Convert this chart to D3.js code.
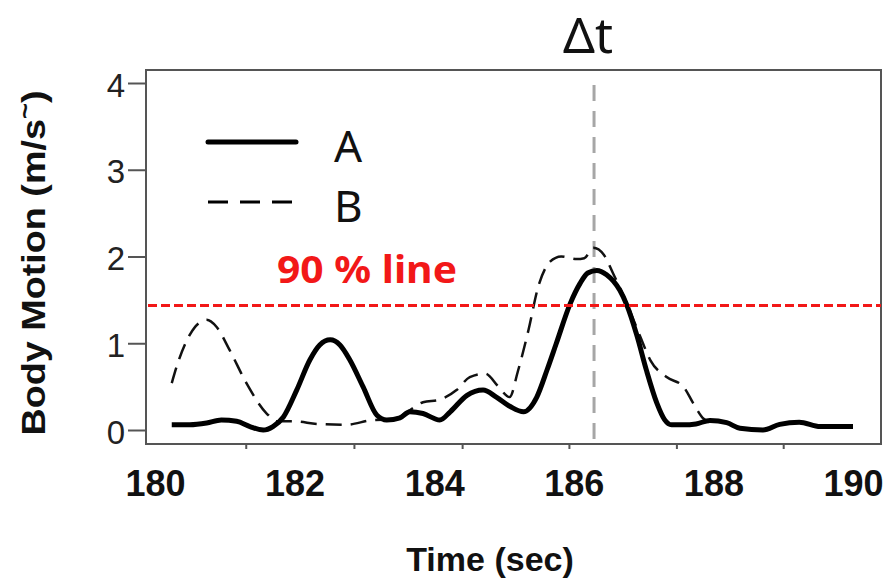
<!DOCTYPE html>
<html>
<head>
<meta charset="utf-8">
<script src="https://cdn.jsdelivr.net/npm/d3@7.9.0/dist/d3.min.js"></script>
<style>
  html, body { margin: 0; padding: 0; background: #fff; }
  svg { display: block; }
</style>
</head>
<body>
<svg id="chart" width="887" height="580"></svg>
<script>
/* =====================================================
   BODY MOTION CHART
   - two motion traces (A solid, B dashed)
   - 90 % threshold line + delta-t marker
   ===================================================== */

/* --- Data --- */
const timeA = [180.24, 180.5, 180.74, 180.95, 181.17, 181.36, 181.55, 181.69, 181.84, 182.03,
  182.22, 182.36, 182.51, 182.65, 182.79, 182.98, 183.18, 183.32, 183.51, 183.65,
  183.84, 184.08, 184.23, 184.47, 184.7, 184.89, 185.09, 185.28, 185.47, 185.62,
  185.75, 185.95, 186.09, 186.2, 186.33, 186.47, 186.66, 186.76, 186.9, 187.04,
  187.19, 187.3, 187.4, 187.57, 187.75, 187.95, 188.19, 188.38, 188.71, 188.95,
  189.23, 189.53, 190.0];
const valueA = [0.06, 0.06, 0.08, 0.115, 0.1, 0.04, 0.0, 0.04, 0.15, 0.46,
  0.81, 0.98, 1.04, 0.98, 0.81, 0.5, 0.17, 0.115, 0.14, 0.21,
  0.19, 0.115, 0.21, 0.4, 0.46, 0.38, 0.27, 0.21, 0.38, 0.7,
  1.0, 1.46, 1.69, 1.81, 1.84, 1.79, 1.61, 1.44, 1.1, 0.69,
  0.31, 0.12, 0.06, 0.06, 0.07, 0.11, 0.085, 0.02, 0.0, 0.065,
  0.09, 0.04, 0.04];

const timeB = [180.24, 180.31, 180.5, 180.74, 180.88, 181.07, 181.31, 181.6, 181.75, 182.0,
  182.32, 182.74, 183.13, 183.41, 183.6, 183.84, 184.08, 184.32, 184.51, 184.73,
  184.92, 185.08, 185.2, 185.35, 185.49, 185.66, 185.82, 186.04, 186.15, 186.28,
  186.43, 186.56, 186.76, 186.95, 187.1, 187.33, 187.57, 187.71, 187.86, 188.0];
const valueB = [0.54, 0.73, 1.1, 1.27, 1.19, 0.92, 0.54, 0.19, 0.1, 0.1,
  0.07, 0.06, 0.115, 0.12, 0.2, 0.32, 0.35, 0.46, 0.61, 0.65,
  0.5, 0.38, 0.68, 1.15, 1.65, 1.94, 2.0, 1.97, 1.98, 2.1,
  2.02, 1.81, 1.46, 1.08, 0.8, 0.61, 0.5, 0.31, 0.13, 0.08];

const xTickLabels = [180, 182, 184, 186, 188, 190];
const xTickMarks = [181.3, 182.85, 184.4, 185.93, 187.47, 189.0];   // marks of the underlying frame
const yTickLabels = [0, 1, 2, 3, 4];
const ninetyLine = 1.435;
const deltaT = 186.29;
const legendNames = ['A', 'B'];


/* --- Layout --- */
const svg = d3.select('#chart');
const frame = { left: 146, top: 70, right: 881, bottom: 444 };

const x = d3.scaleLinear().domain([180, 190]).range([155, 853]);
const y = d3.scaleLinear().domain([0, 4]).range([430, 83]);

const seriesA = timeA.map((t, i) => ({ t, v: valueA[i] }));
const seriesB = timeB.map((t, i) => ({ t, v: valueB[i] }));

const line = d3.line()
  .x(d => x(d.t))
  .y(d => y(d.v))
  .curve(d3.curveMonotoneX);


/* --- Frame --- */
svg.append('rect')
  .attr('x', frame.left)
  .attr('y', frame.top)
  .attr('width', frame.right - frame.left)
  .attr('height', frame.bottom - frame.top)
  .attr('fill', 'none')
  .attr('stroke', '#555')
  .attr('stroke-width', 2);


/* --- Y axis --- */
const yAxis = svg.append('g')
  .attr('transform', `translate(${frame.left},0)`)
  .call(d3.axisLeft(y).tickValues(yTickLabels).tickSize(18).tickPadding(3).tickFormat(d3.format('d')));

yAxis.select('.domain').remove();
yAxis.selectAll('.tick line').attr('stroke', '#555').attr('stroke-width', 2);
yAxis.selectAll('.tick text')
  .attr('font-family', '"Liberation Sans", Arial, sans-serif')
  .attr('font-size', 33)
  .attr('fill', '#222')
  .attr('dy', '0.4em');


/* --- X axis (frame marks + labels) --- */
const xMarks = svg.append('g')
  .attr('transform', `translate(0,${frame.bottom})`)
  .call(d3.axisBottom(x).tickValues(xTickMarks).tickSize(5).tickFormat(''));
xMarks.select('.domain').remove();
xMarks.selectAll('.tick line').attr('stroke', '#555').attr('stroke-width', 2);

const xLabels = svg.append('g')
  .attr('transform', `translate(0,${frame.bottom})`)
  .call(d3.axisBottom(x).tickValues(xTickLabels).tickSize(0).tickPadding(26).tickFormat(d3.format('d')));
xLabels.select('.domain').remove();
xLabels.selectAll('.tick text')
  .attr('font-family', '"Liberation Sans", Arial, sans-serif')
  .attr('font-size', 36)
  .attr('font-weight', 'bold')
  .attr('fill', '#111');


/* --- Axis titles --- */
svg.append('text')
  .attr('x', 490)
  .attr('y', 571)
  .attr('text-anchor', 'middle')
  .attr('font-family', '"Liberation Sans", Arial, sans-serif')
  .attr('font-size', 34)
  .attr('font-weight', 'bold')
  .attr('fill', '#111')
  .text('Time (sec)');

const yTitle = svg.append('text')
  .attr('transform', 'translate(45,263) rotate(-90)')
  .attr('text-anchor', 'middle')
  .attr('font-family', '"Liberation Sans", Arial, sans-serif')
  .attr('font-size', 33)
  .attr('font-weight', 'bold')
  .attr('fill', '#111')
  .attr('textLength', 345)
  .attr('lengthAdjust', 'spacingAndGlyphs');
yTitle.append('tspan').text('Body Motion (m/s');
yTitle.append('tspan').attr('dy', -12).attr('font-size', 24).text('~');
yTitle.append('tspan').attr('dy', 12).text(')');


/* --- Delta-t marker --- */
svg.append('line')
  .attr('x1', x(deltaT)).attr('x2', x(deltaT))
  .attr('y1', y(4) + 2).attr('y2', frame.bottom)
  .attr('stroke', '#a6a6a6')
  .attr('stroke-width', 3)
  .attr('stroke-dasharray', '16,10');

svg.append('text')
  .attr('x', x(deltaT) - 6)
  .attr('y', 53)
  .attr('text-anchor', 'middle')
  .attr('font-family', '"Noto Sans", "Open Sans", sans-serif')
  .attr('font-size', 50)
  .attr('fill', '#111')
  .text('Δt');


/* --- Traces --- */
svg.append('path')
  .datum(seriesB)
  .attr('d', line)
  .attr('fill', 'none')
  .attr('stroke', '#111')
  .attr('stroke-width', 2.5)
  .attr('stroke-dasharray', '16,9');

svg.append('path')
  .datum(seriesA)
  .attr('d', line)
  .attr('fill', 'none')
  .attr('stroke', '#000')
  .attr('stroke-width', 5)
  .attr('stroke-linejoin', 'round');


/* --- 90 % line --- */
svg.append('line')
  .attr('x1', frame.left + 2).attr('x2', frame.right)
  .attr('y1', y(ninetyLine)).attr('y2', y(ninetyLine))
  .attr('stroke', '#f21818')
  .attr('stroke-width', 3)
  .attr('stroke-dasharray', '9,4');

svg.append('text')
  .attr('x', 277)
  .attr('y', 283)
  .attr('font-family', '"Noto Sans", "Open Sans", sans-serif')
  .attr('font-size', 37)
  .attr('font-weight', 'bold')
  .attr('fill', '#f21818')
  .attr('textLength', 180)
  .attr('lengthAdjust', 'spacingAndGlyphs')
  .text('90 % line');


/* --- Legend --- */
const legend = svg.append('g');
const legendStyles = [
  { width: 5, dash: null },
  { width: 3, dash: '20,12' }
];

legend.selectAll('line')
  .data(legendNames)
  .enter()
  .append('line')
  .attr('x1', 208).attr('x2', (_, i) => i ? 292 : 296)
  .attr('y1', (_, i) => 142 + i * 60)
  .attr('y2', (_, i) => 142 + i * 60)
  .attr('stroke', '#000')
  .attr('stroke-width', (_, i) => legendStyles[i].width)
  .attr('stroke-linecap', (_, i) => i ? 'butt' : 'round')
  .attr('stroke-dasharray', (_, i) => legendStyles[i].dash);

legend.selectAll('text')
  .data(legendNames)
  .enter()
  .append('text')
  .attr('x', 334)
  .attr('y', (_, i) => 162 + i * 60)
  .attr('font-family', '"Noto Sans", "Open Sans", sans-serif')
  .attr('font-size', 44)
  .attr('fill', '#111')
  .text(d => d);
</script>
</body>
</html>
